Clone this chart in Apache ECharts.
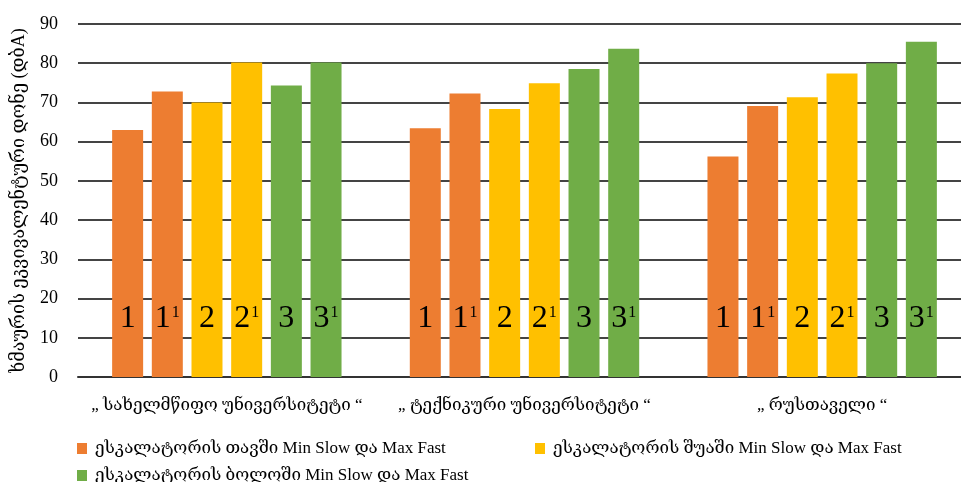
<!DOCTYPE html>
<html>
<head>
<meta charset="utf-8">
<script src="https://cdn.jsdelivr.net/npm/echarts@6/dist/echarts.min.js"></script>
<style>
  html, body { margin: 0; padding: 0; background: #fff; }
  #chart { width: 961px; height: 482px; }
</style>
</head>
<body>
<div id="chart"></div>
<script>
// Measurement sites
const categories = ['„ სახელმწიფო უნივერსიტეტი “', '„ ტექნიკური უნივერსიტეტი “', '„ რუსთაველი “'];

// Equivalent noise level, dBA, per escalator position (Min Slow / Max Fast)
const topMinSlow = [63, 63.4, 56.2];
const topMaxFast = [72.8, 72.3, 69.1];
const midMinSlow = [70, 68.3, 71.3];
const midMaxFast = [80.2, 74.9, 77.4];
const endMinSlow = [74.3, 78.5, 80];
const endMaxFast = [80.2, 83.7, 85.5];

// Marks written inside each bar (number + superscript)
const markMain = ['1', '1', '2', '2', '3', '3'];
const markSup = ['', '1', '', '1', '', '1'];

const legendNames = [
  'ესკალატორის თავში Min Slow და Max Fast',
  'ესკალატორის შუაში Min Slow და Max Fast',
  'ესკალატორის ბოლოში Min Slow და Max Fast'
];
const yTicks = { min: 0, max: 90, interval: 10 };

const FONT = '"Liberation Serif", "DejaVu Serif", serif';
const colors = ['#ED7D31', '#FFC000', '#70AD47'];

const seriesData = [topMinSlow, topMaxFast, midMinSlow, midMaxFast, endMinSlow, endMaxFast];

const series = seriesData.map((data, i) => {
  const g = Math.floor(i / 2);
  const text = markSup[i] ? '{b|' + markMain[i] + '}{s|' + markSup[i] + '}' : '{b|' + markMain[i] + '}';
  return {
    type: 'bar',
    name: legendNames[g],
    data: data,
    barWidth: 31,
    barGap: '28%',
    itemStyle: { color: colors[g] },
    label: {
      show: true,
      position: 'insideBottom',
      distance: 42,
      formatter: () => text,
      rich: {
        b: { fontFamily: FONT, fontSize: 32, color: '#000', lineHeight: 32, verticalAlign: 'bottom' },
        s: { fontFamily: FONT, fontSize: 16, color: '#000', lineHeight: 16, verticalAlign: 'top', padding: [2, 0, 0, 1] }
      }
    },
    emphasis: { disabled: true }
  };
});

const legendBase = {
  icon: 'rect',
  itemWidth: 10,
  itemHeight: 11,
  selectedMode: false,
  textStyle: { fontFamily: FONT, fontSize: 17, color: '#000', padding: [0, 0, 0, 3] }
};

const option = {
  animation: false,
  backgroundColor: '#fff',
  color: colors,
  grid: { left: 78, top: 24, bottom: 105, width: 893, outerBoundsMode: 'none', containLabel: false },
  legend: [
    Object.assign({}, legendBase, { left: 72, top: 435, data: [legendNames[0]] }),
    Object.assign({}, legendBase, { left: 530, top: 435, data: [legendNames[1]] }),
    Object.assign({}, legendBase, { left: 72, top: 462, data: [legendNames[2]] })
  ],
  xAxis: {
    type: 'category',
    data: categories,
    axisLine: { lineStyle: { color: '#333', width: 2 } },
    axisTick: { show: false },
    axisLabel: { fontFamily: FONT, fontSize: 17, color: '#000', margin: 20, interval: 0 }
  },
  yAxis: {
    type: 'value',
    min: yTicks.min,
    max: yTicks.max,
    interval: yTicks.interval,
    name: 'ხმაურის ეკვივალენტური დონე (დბA)',
    nameLocation: 'middle',
    nameGap: 50,
    nameTextStyle: { fontFamily: FONT, fontSize: 18, color: '#000' },
    axisLine: { show: false },
    axisTick: { show: false },
    axisLabel: { fontFamily: FONT, fontSize: 18, color: '#000', margin: 20 },
    splitLine: { lineStyle: { color: '#444', width: 2 } }
  },
  series: series
};

const chart = echarts.init(document.getElementById('chart'), null, { renderer: 'canvas' });
chart.setOption(option);
</script>
</body>
</html>
